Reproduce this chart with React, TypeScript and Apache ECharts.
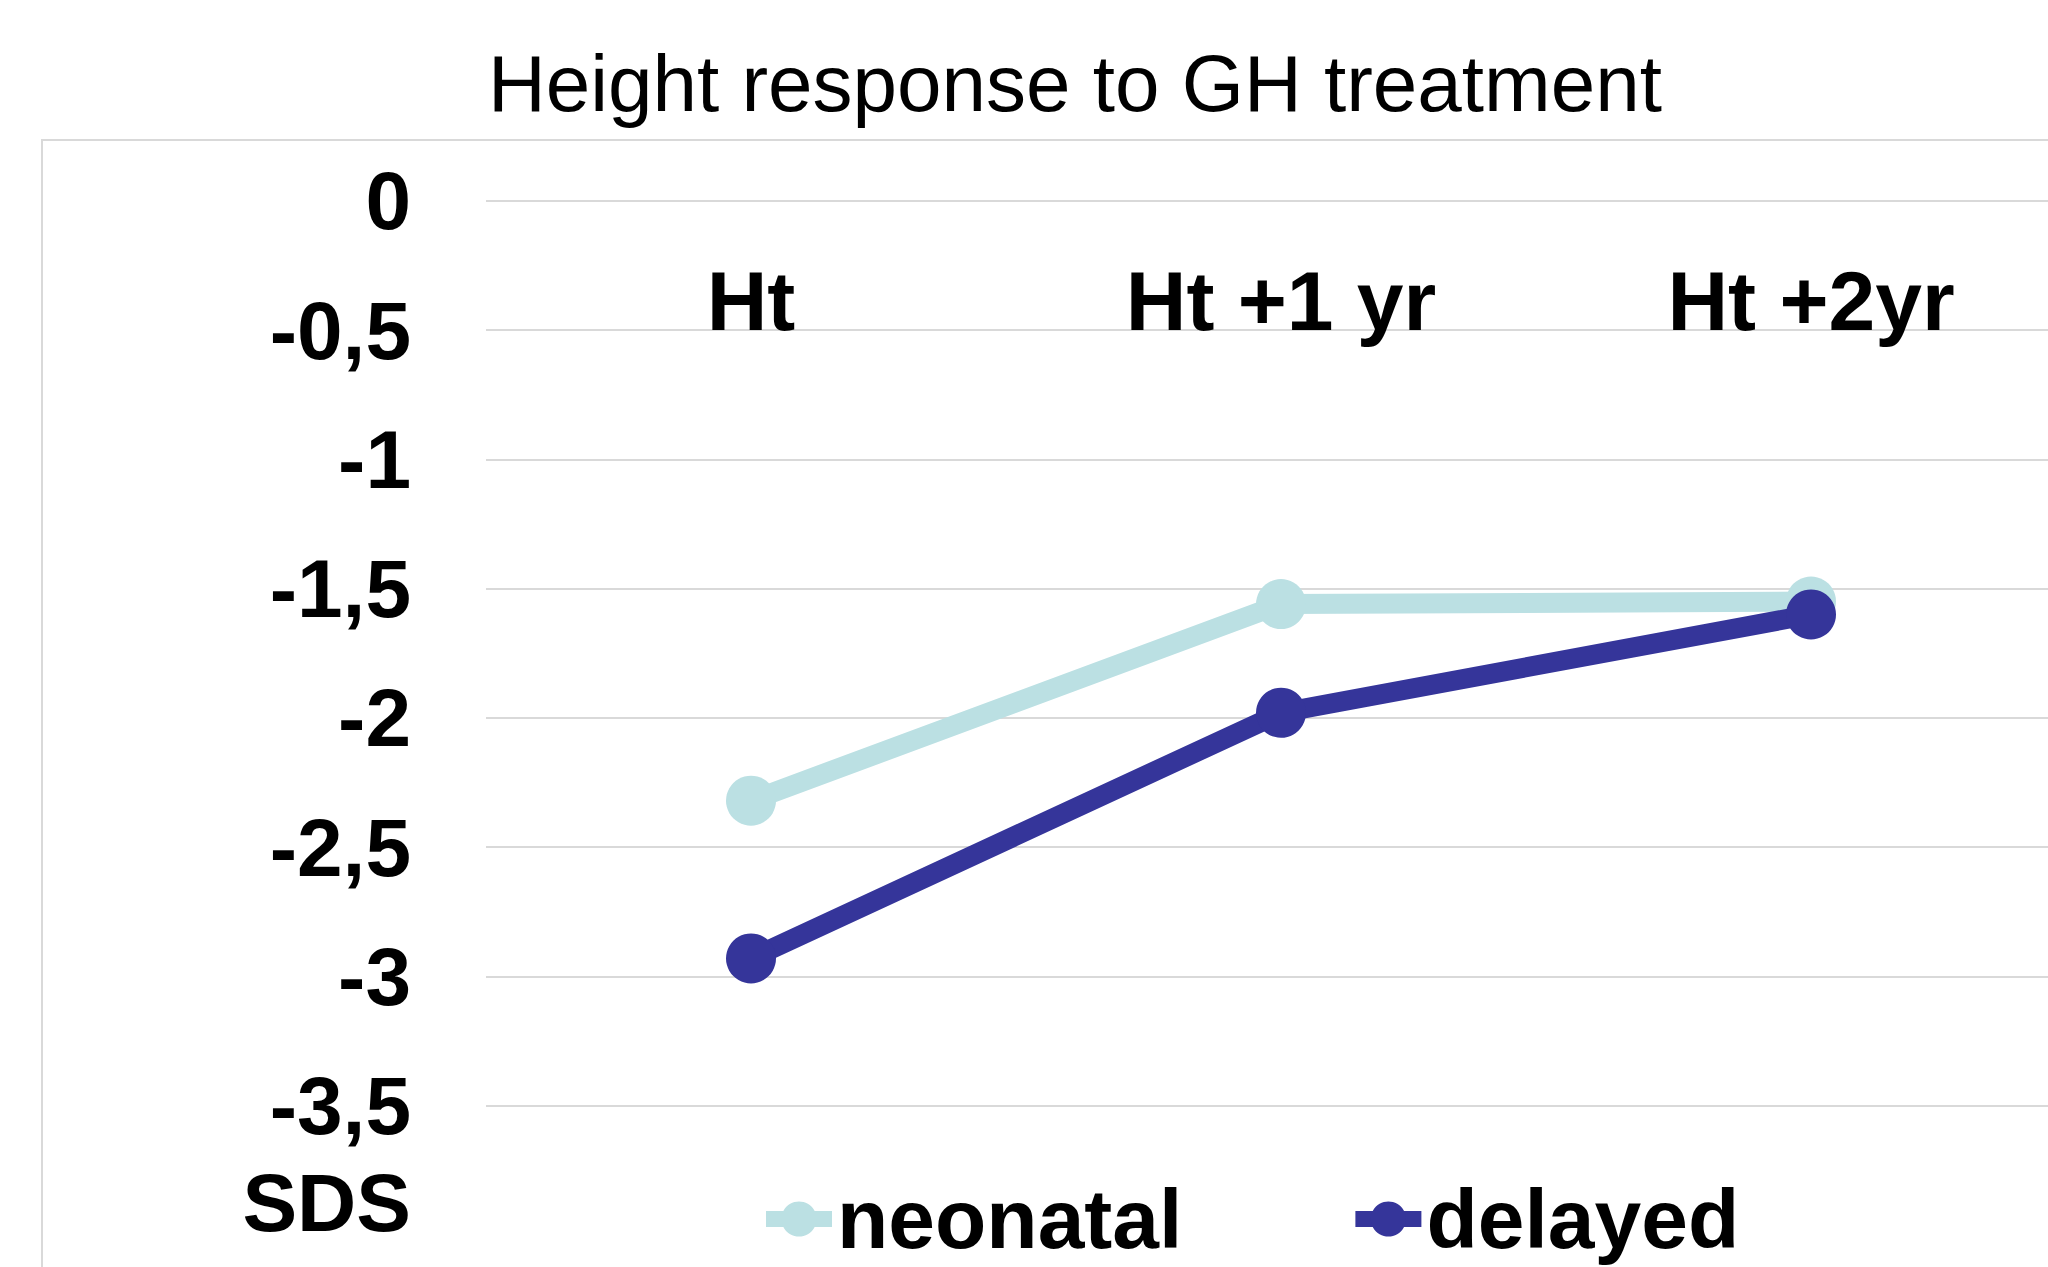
import React, { useEffect, useRef } from "react";
import * as echarts from "echarts";

const categories = ["Ht", "Ht +1 yr", "Ht +2yr"];
const neonatal = [-2.32, -1.56, -1.55];
const delayed = [-2.93, -1.98, -1.6];
const seriesNames = ["neonatal", "delayed"];
const titleText = "Height response to GH treatment";
const yName = "SDS";

const FONT = "'Liberation Sans', Arial, Helvetica, sans-serif";

export default function App() {
  const ref = useRef<HTMLDivElement>(null);
  useEffect(() => {
    if (!ref.current) return;
    const chart = echarts.init(ref.current, undefined, { renderer: "svg" });
    chart.setOption({
      animation: false,
      backgroundColor: "#ffffff",
      title: {
        text: titleText,
        left: 483,
        top: 38,
        textStyle: { fontFamily: FONT, fontSize: 80, fontWeight: "normal", color: "#000" },
      },
      graphic: [
        {
          type: "rect",
          shape: { x: 42, y: 140, width: 2200, height: 1300 },
          style: { fill: "none", stroke: "#d9d9d9", lineWidth: 2 },
          z: -1,
        },
        {
          type: "text",
          x: 411,
          y: 1202,
          style: {
            text: yName,
            font: `bold 82px ${FONT}`,
            fill: "#000",
            align: "right",
            verticalAlign: "middle",
          },
        },
      ],
      legend: {
        data: seriesNames,
        left: 758,
        top: 1177,
        padding: 0,
        itemWidth: 66,
        itemHeight: 44,
        itemGap: 165,
        lineStyle: { width: 16 },
        textStyle: { fontFamily: FONT, fontSize: 84, fontWeight: "bold", color: "#000" },
      },
      grid: { left: 486, top: 200.7, width: 1590, height: 905.1 },
      xAxis: {
        type: "category",
        data: categories,
        position: "top",
        boundaryGap: true,
        axisLine: { show: false },
        axisTick: { show: false },
        axisLabel: {
          inside: true,
          margin: 58,
          fontFamily: FONT,
          fontSize: 84,
          fontWeight: "bold",
          color: "#000",
        },
      },
      yAxis: {
        type: "value",
        min: -3.5,
        max: 0,
        interval: 0.5,
        axisLine: { show: false },
        axisTick: { show: false },
        splitLine: { lineStyle: { color: "#d9d9d9", width: 2 } },
        axisLabel: {
          margin: 75,
          fontFamily: FONT,
          fontSize: 82,
          fontWeight: "bold",
          color: "#000",
          formatter: (v: number) => String(v).replace(".", ","),
        },
      },
      series: [
        {
          name: seriesNames[0],
          type: "line",
          data: neonatal,
          symbol: "circle",
          symbolSize: 50,
          lineStyle: { color: "#bbe0e3", width: 20 },
          itemStyle: { color: "#bbe0e3" },
        },
        {
          name: seriesNames[1],
          type: "line",
          data: delayed,
          symbol: "circle",
          symbolSize: 50,
          lineStyle: { color: "#35359a", width: 20 },
          itemStyle: { color: "#35359a" },
        },
      ],
    });
    return () => chart.dispose();
  }, []);
  return (
    <div style={{ position: "fixed", left: 0, top: 0, width: 2048, height: 1267, overflow: "hidden" }}>
      <div ref={ref} style={{ width: 2120, height: 1267 }} />
    </div>
  );
}
